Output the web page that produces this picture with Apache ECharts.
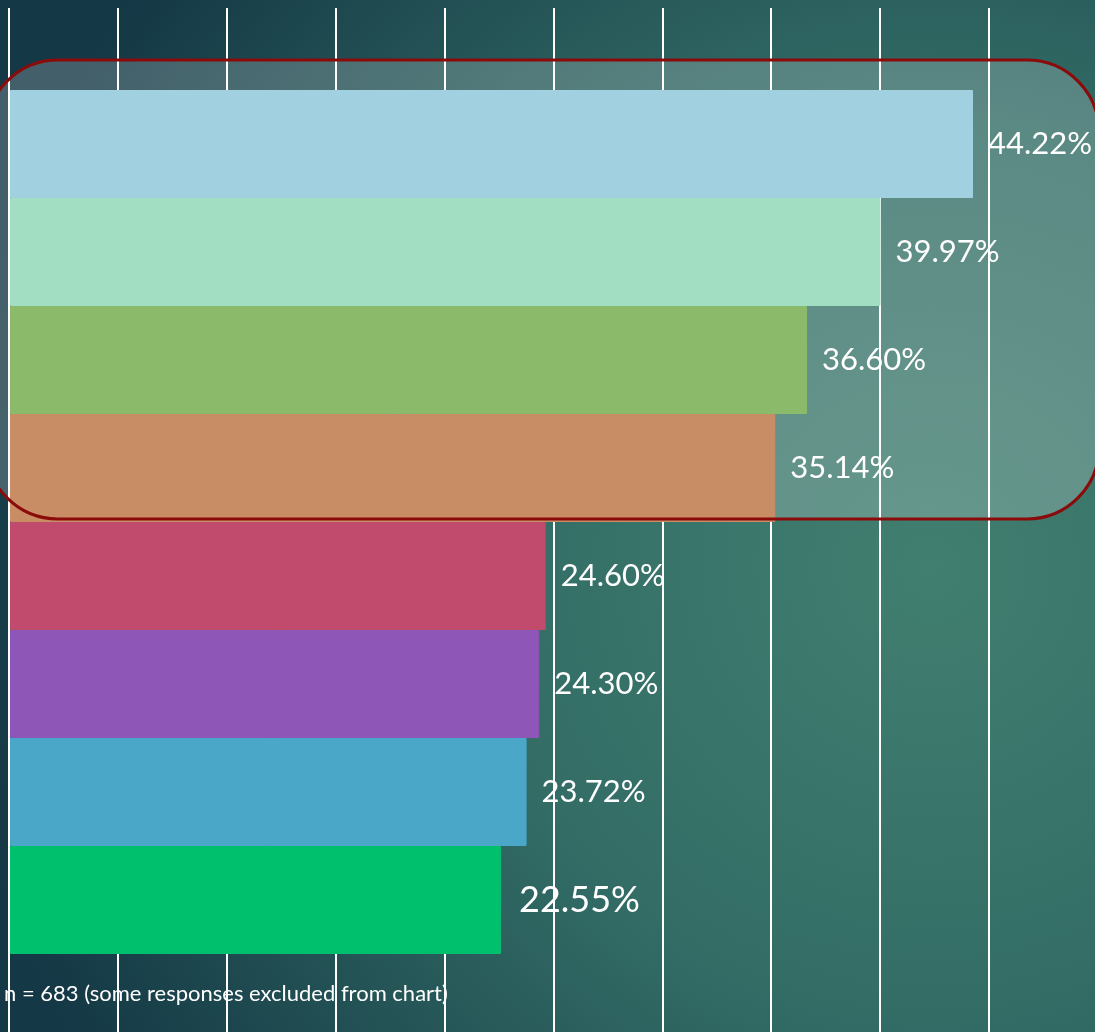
<!DOCTYPE html>
<html>
<head>
<meta charset="utf-8">
<script src="https://cdn.jsdelivr.net/npm/echarts@6/dist/echarts.min.js"></script>
<style>
html,body{margin:0;padding:0;width:1095px;height:1032px;overflow:hidden;}
#chart{width:1095px;height:1032px;}
</style>
</head>
<body>
<div id="chart"></div>
<script>
const categories = ['A', 'B', 'C', 'D', 'E', 'F', 'G', 'H'];
const values = [44.22, 39.97, 36.60, 35.14, 24.60, 24.30, 23.72, 22.55];
const barColors = ['#A1D1E1', '#A2DEC1', '#8BBA6B', '#C98D65', '#C04B6C', '#8E56B7', '#4BA7C7', '#00C06E'];
const xTicks = [0, 5, 10, 15, 20, 25, 30, 35, 40, 45];
const footnote = 'n = 683 (some responses excluded from chart)';

const chart = echarts.init(document.getElementById('chart'));
const FONT = 'Lato, "Open Sans", sans-serif';

chart.setOption({
  backgroundColor: new echarts.graphic.RadialGradient(0.85, 0.55, 0.95, [
    { offset: 0, color: '#417f70' },
    { offset: 0.45, color: '#336d66' },
    { offset: 1, color: '#143845' }
  ]),
  animation: false,
  grid: [
    { left: 9, right: 106, top: 8, bottom: 0 },
    { left: 10, right: 105, top: 90, bottom: 78 }
  ],
  xAxis: [
    {
      gridIndex: 0, type: 'value', min: xTicks[0], max: xTicks[xTicks.length - 1], interval: 5,
      axisLine: { show: false }, axisTick: { show: false }, axisLabel: { show: false },
      splitLine: { show: true, lineStyle: { color: '#ffffff', width: 2 } }
    },
    {
      gridIndex: 1, type: 'value', min: xTicks[0], max: xTicks[xTicks.length - 1], interval: 5,
      axisLine: { show: false }, axisTick: { show: false }, axisLabel: { show: false },
      splitLine: { show: false }
    }
  ],
  yAxis: [
    { gridIndex: 0, type: 'category', data: [], show: false },
    {
      gridIndex: 1, type: 'category', data: categories, inverse: true,
      axisLine: { show: false }, axisTick: { show: false }, axisLabel: { show: false },
      splitLine: { show: false }
    }
  ],
  graphic: [
    {
      type: 'rect', z: -1, silent: true,
      shape: { x: -14, y: 60, width: 1113, height: 459, r: 72 },
      style: { fill: 'rgba(255,255,255,0.2)' }
    },
    {
      type: 'rect', z: 100, silent: true,
      shape: { x: -14, y: 60, width: 1113, height: 459, r: 72 },
      style: { fill: 'none', stroke: '#8B0A0A', lineWidth: 3 }
    },
    {
      type: 'text', z: -1, silent: true,
      left: 4, top: 983,
      style: { text: footnote, fill: '#ffffff', font: '22px ' + FONT }
    }
  ],
  series: [
    {
      type: 'bar',
      xAxisIndex: 1, yAxisIndex: 1,
      barCategoryGap: 0,
      data: values.map((v, i) => ({
        value: v,
        itemStyle: { color: barColors[i], borderColor: barColors[i], borderWidth: 1 },
        label: i === values.length - 1 ? { fontSize: 36, distance: 18 } : undefined
      })),
      label: {
        show: true, position: 'right', distance: 15,
        color: '#ffffff', fontSize: 31, fontFamily: FONT,
        formatter: p => p.value.toFixed(2) + '%'
      }
    }
  ]
});
</script>
</body>
</html>
